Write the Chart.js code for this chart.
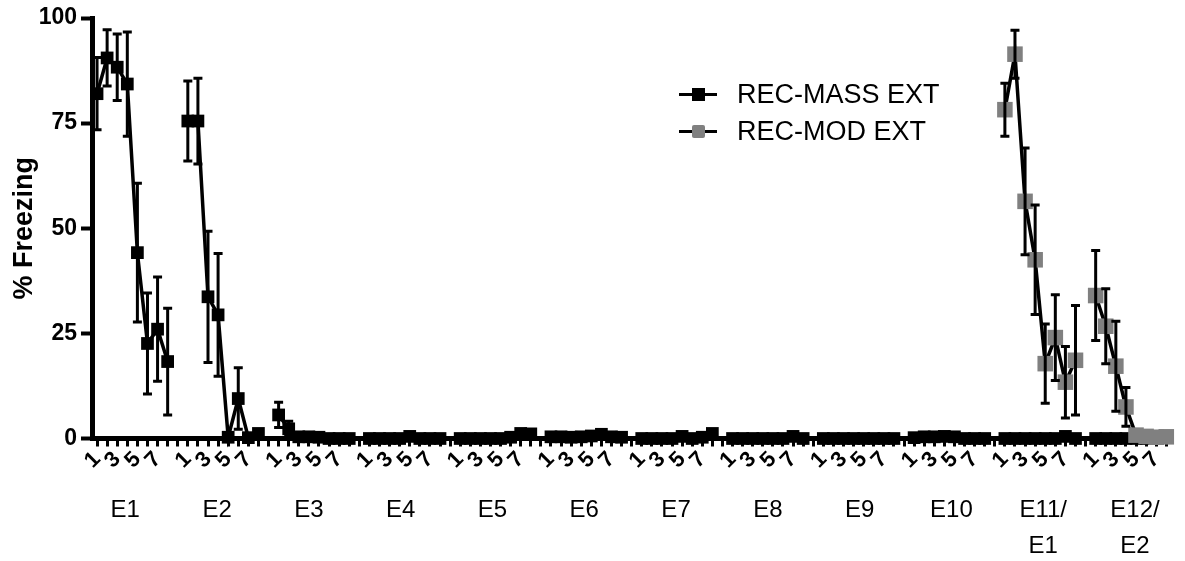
<!DOCTYPE html>
<html>
<head>
<meta charset="utf-8">
<script src="https://cdn.jsdelivr.net/npm/chart.js@4/dist/chart.umd.min.js"></script>
<style>
  html, body { margin: 0; padding: 0; background: #fff; }
  #wrap { position: relative; width: 1185px; height: 561px; }
  #legend { position: absolute; left: 679px; top: 76px; font-family: "Liberation Sans", Arial, sans-serif; font-size: 27px; color: #000; }
  .row { position: relative; height: 37px; line-height: 37px; padding-left: 58px; white-space: nowrap; }
  .row .ln { position: absolute; left: 0; top: 17px; width: 38px; height: 3px; background: #000; }
  .row .sq { position: absolute; left: 13px; top: 12px; width: 13px; height: 13px; }
</style>
</head>
<body>
<div id="wrap">
  <canvas id="c" width="1185" height="561"></canvas>
  <div id="legend">
    <div class="row"><span class="ln"></span><span class="sq" style="background:#000"></span>REC-MASS EXT</div>
    <div class="row"><span class="ln"></span><span class="sq" style="background:#808080;border-radius:2px"></span>REC-MOD EXT</div>
  </div>
</div>
<script>
// Extinction sessions and trials within each session
const sessionLabels = ['E1', 'E2', 'E3', 'E4', 'E5', 'E6', 'E7', 'E8', 'E9', 'E10', ['E11/', 'E1'], ['E12/', 'E2']];
const trialLabels = ['1', '2', '3', '4', '5', '6', '7', '8'];
const shownTrials = ['1', '3', '5', '7'];

// REC-MASS EXT: mean % freezing per trial, one row per session
const massMean = [
  [82, 90.5, 88.3, 84.3, 44.2, 22.6, 26, 18.3],
  [75.5, 75.5, 33.7, 29.4, 0.3, 9.5, 0.2, 1.2],
  [5.6, 2.3, 0.4, 0.4, 0.3, 0, 0, 0],
  [0, 0, 0, 0, 0.5, 0, 0, 0],
  [0, 0, 0, 0, 0, 0.3, 1.2, 1.1],
  [0.4, 0.4, 0.3, 0.4, 0.6, 1.0, 0.4, 0.3],
  [0, 0, 0, 0, 0.5, 0, 0.3, 1.2],
  [0, 0, 0, 0, 0, 0, 0.5, 0],
  [0, 0, 0, 0, 0, 0, 0, 0],
  [0.2, 0.4, 0.4, 0.5, 0.4, 0, 0, 0],
  [0, 0, 0, 0, 0, 0, 0.5, 0],
  [0, 0, 0, 0, 0, 0, 0, 0.3]
];
const massSem = [
  [8.6, 6.7, 7.9, 12.4, 16.5, 12, 12.4, 12.7],
  [9.5, 10.2, 15.6, 14.6, 0, 7.3, 0, 0],
  [3, 1.8, 0, 0, 0, 0, 0, 0],
  [0, 0, 0, 0, 0, 0, 0, 0],
  [0, 0, 0, 0, 0, 0, 0, 0],
  [0, 0, 0, 0, 0, 0, 0, 0],
  [0, 0, 0, 0, 0, 0, 0, 0],
  [0, 0, 0, 0, 0, 0, 0, 0],
  [0, 0, 0, 0, 0, 0, 0, 0],
  [0, 0, 0, 0, 0, 0, 0, 0],
  [0, 0, 0, 0, 0, 0, 0, 0],
  [0, 0, 0, 0, 0, 0, 0, 0]
];

// REC-MOD EXT: only tested in the last two sessions
const modMean = [
  null, null, null, null, null, null, null, null, null, null,
  [78.2, 91.4, 56.4, 42.5, 17.8, 24, 13.4, 18.6],
  [34, 26.7, 17.2, 7.5, 0.8, 0.5, 0.3, 0.4]
];
const modSem = [
  null, null, null, null, null, null, null, null, null, null,
  [6.3, 5.7, 12.7, 13, 9.4, 10.2, 8.5, 13],
  [10.7, 8.9, 10.7, 4.6, 0, 0, 0, 0]
];

// Flatten sessions onto one category axis, with an empty slot between sessions
const labels = [];
sessionLabels.forEach((s, si) => {
  trialLabels.forEach(t => labels.push(t));
  if (si < sessionLabels.length - 1) labels.push('');
});
// Session names are spread evenly along the axis (in trial-slot units)
const sessionLabelStart = 2.8;
const sessionLabelStep = 9.1;
function flatten(rows) {
  const out = [];
  rows.forEach((row, si) => {
    trialLabels.forEach((t, ti) => out.push(row ? row[ti] : null));
    if (si < rows.length - 1) out.push(null);
  });
  return out;
}

// Vertical SEM bars with caps, drawn over the markers
const errorBars = {
  id: 'errorBars',
  afterDatasetsDraw(chart) {
    const { ctx } = chart;
    const y = chart.scales.y;
    ctx.save();
    ctx.strokeStyle = '#000';
    ctx.lineWidth = 3;
    chart.data.datasets.forEach((ds, di) => {
      const meta = chart.getDatasetMeta(di);
      ds.errors.forEach((e, i) => {
        const v = ds.data[i];
        if (v == null || !e) return;
        const px = meta.data[i].x;
        const top = y.getPixelForValue(v + e);
        const bot = y.getPixelForValue(Math.max(v - e, 0));
        ctx.beginPath();
        ctx.moveTo(px, top); ctx.lineTo(px, bot);
        ctx.moveTo(px - 4.5, top); ctx.lineTo(px + 4.5, top);
        ctx.moveTo(px - 4.5, bot); ctx.lineTo(px + 4.5, bot);
        ctx.stroke();
      });
    });
    ctx.restore();
  }
};

Chart.defaults.font.family = '"Liberation Sans", Arial, sans-serif';
Chart.defaults.color = '#000';

new Chart(document.getElementById('c'), {
  type: 'line',
  data: {
    labels: labels,
    datasets: [
      {
        label: 'REC-MASS EXT',
        data: flatten(massMean),
        errors: flatten(massSem),
        borderColor: '#000',
        borderWidth: 3.5,
        backgroundColor: '#000',
        pointStyle: 'rect',
        pointRadius: 9,
        pointBorderWidth: 0,
        pointBackgroundColor: '#000',
        spanGaps: false,
        clip: false,
        order: 1
      },
      {
        label: 'REC-MOD EXT',
        data: flatten(modMean),
        errors: flatten(modSem),
        borderColor: '#000',
        borderWidth: 3.5,
        backgroundColor: '#808080',
        pointStyle: 'rect',
        pointRadius: 11,
        pointBorderWidth: 0,
        pointBackgroundColor: '#808080',
        spanGaps: false,
        clip: false,
        order: 0
      }
    ]
  },
  options: {
    responsive: false,
    animation: false,
    devicePixelRatio: 1,
    layout: { padding: { top: 18, right: 2, left: 0, bottom: 0 } },
    plugins: { legend: { display: false }, tooltip: { enabled: false } },
    scales: {
      x: {
        type: 'category',
        offset: true,
        weight: 0,
        grid: { drawOnChartArea: false, drawTicks: true, tickLength: 8, tickWidth: 3, tickColor: '#000' },
        border: { color: '#000', width: 5 },
        ticks: {
          autoSkip: false,
          minRotation: 45,
          maxRotation: 45,
          padding: 0,
          font: { size: 22, weight: 'bold' },
          callback: function (v) {
            const l = this.getLabelForValue(v);
            return shownTrials.includes(l) ? l : '';
          }
        },
        afterFit: s => { s.height = 50; }
      },
      x2: {
        type: 'linear',
        position: 'bottom',
        weight: 1,
        min: -0.5,
        max: labels.length - 0.5,
        bounds: 'data',
        grid: { display: false, drawTicks: false },
        border: { display: false },
        ticks: {
          autoSkip: false,
          maxRotation: 0,
          padding: 4,
          font: { size: 24, lineHeight: 1.5 },
          callback: (v, i) => sessionLabels[i]
        },
        afterBuildTicks: s => {
          s.ticks = sessionLabels.map((_, g) => ({ value: sessionLabelStart + g * sessionLabelStep }));
        },
        afterFit: s => { s.height = 72.5; }
      },
      y: {
        min: 0,
        max: 100,
        ticks: { stepSize: 25, padding: 4, font: { size: 23, weight: 'bold' } },
        grid: { drawOnChartArea: false, tickLength: 11, tickWidth: 4, tickColor: '#000' },
        border: { color: '#000', width: 5 },
        title: { display: true, text: '% Freezing', font: { size: 27, weight: 'bold' }, padding: { top: 8, bottom: 0 } },
        afterFit: s => { s.width = 92; }
      }
    }
  },
  plugins: [errorBars]
});
</script>
</body>
</html>
